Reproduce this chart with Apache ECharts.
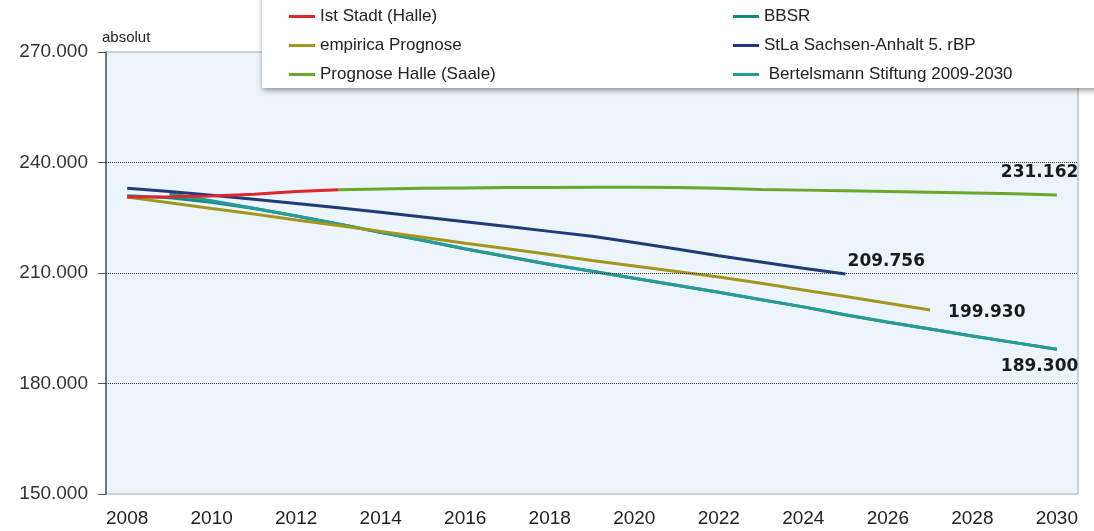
<!DOCTYPE html>
<html>
<head>
<meta charset="utf-8">
<script src="https://cdn.jsdelivr.net/npm/echarts@6/dist/echarts.min.js"></script>
<style>html,body{margin:0;padding:0;background:#fff}#c{width:1094px;height:531px}</style>
</head>
<body>
<div id="c"></div>
<script>
const years = ['2008','2009','2010','2011','2012','2013','2014','2015','2016','2017','2018','2019','2020','2021','2022','2023','2024','2025','2026','2027','2028','2029','2030'];
const yTicks = [150000, 180000, 210000, 240000, 270000];
const gridValues = [180000, 210000, 240000];

const istStadt = [230600,230700,230900,231400,232100,232600,null,null,null,null,null,null,null,null,null,null,null,null,null,null,null,null,null];
const empirica = [230600,229100,227500,226000,224400,222900,221300,219700,218100,216600,215000,213400,211900,210400,208900,207200,205400,203600,201800,199930,null,null,null];
const prognoseHalle = [null,null,null,null,null,232600,232800,233000,233100,233200,233200,233300,233300,233200,233000,232700,232500,232300,232100,231900,231700,231500,231162];
const bbsr = [231000,230400,229200,227500,225500,223300,221000,218800,216500,214400,212300,210500,208600,206700,204800,202700,200800,198600,196600,194800,192900,191100,189300];
const stla = [233000,232100,231100,230000,228900,227700,226500,225200,223900,222600,221300,220000,218300,216500,214700,213000,211300,209756,null,null,null,null,null];
const bertelsmann = [null,231600,229600,227600,225500,223300,221100,218900,216600,214500,212400,210500,208600,206700,204800,202800,200800,198700,196700,194800,192900,191100,189300];

const fmt = v => String(v).replace(/\B(?=(\d{3})+(?!\d))/g, '.');

function line(name, color, data, labelOffset, z) {
  const s = {
    name: name, type: 'line', data: data,
    showSymbol: false, symbol: 'none', smooth: false, z: z || 2,
    lineStyle: { color: color, width: 3 }, itemStyle: { color: color },
    emphasis: { disabled: true }
  };
  if (labelOffset) {
    s.endLabel = {
      show: true, distance: 0, offset: labelOffset,
      formatter: p => fmt(p.value),
      color: '#1a1a1a', fontFamily: 'DejaVu Sans', fontWeight: 'bold', fontSize: 17
    };
  }
  return s;
}

const chart = echarts.init(document.getElementById('c'));
const series = [
  line('BBSR', '#138a78', bbsr, null, 2),
  line(' Bertelsmann Stiftung 2009-2030', '#2a9a98', bertelsmann, [-56, 17], 3),
  line('empirica Prognose', '#a3961e', empirica, [18, 2], 4),
  line('StLa Sachsen-Anhalt 5. rBP', '#1f3c78', stla, [2, -12], 5),
  line('Prognose Halle (Saale)', '#68a82c', prognoseHalle, [-56, -22], 6),
  line('Ist Stadt (Halle)', '#e0262e', istStadt, null, 7)
];
series[0].markLine = {
  silent: true, symbol: 'none', label: { show: false },
  lineStyle: { color: '#333', type: 'dotted', width: 1 },
  data: gridValues.map(v => ({ yAxis: v }))
};

const legendText = { fontFamily: 'Liberation Sans', fontSize: 17, color: '#222' };
chart.setOption({
  animation: false,
  backgroundColor: '#ffffff',
  grid: { left: 106, right: 16, top: 52, bottom: 37, show: true, backgroundColor: '#edf5fc', borderColor: '#a8a8a8', borderWidth: 1 },
  xAxis: {
    type: 'category', data: years, boundaryGap: true,
    axisLine: { show: false }, axisTick: { show: false },
    axisLabel: { interval: 1, margin: 15, fontFamily: 'Liberation Sans', fontSize: 19, color: '#222' }
  },
  yAxis: {
    type: 'value', min: 150000, max: 270000, interval: 30000,
    name: 'absolut', nameLocation: 'end', nameGap: 7,
    nameTextStyle: { align: 'left', verticalAlign: 'bottom', fontFamily: 'Liberation Sans', fontSize: 15, color: '#222', padding: [0, 0, 0, -4] },
    axisLine: { show: true, lineStyle: { color: '#555', width: 1.5 } },
    axisTick: { show: true, length: 8, lineStyle: { color: '#555' } },
    splitLine: { show: false },
    axisLabel: { margin: 18, fontFamily: 'Liberation Sans', fontSize: 19, color: '#333', formatter: v => fmt(v), customValues: yTicks }
  },
  graphic: [{
    type: 'rect', z: 50, silent: true,
    shape: { x: 262, y: -8, width: 850, height: 96 },
    style: { fill: '#ffffff', shadowBlur: 6, shadowColor: 'rgba(0,0,0,0.45)', shadowOffsetX: 1, shadowOffsetY: 2 }
  }],
  legend: [
    { z: 60, orient: 'vertical', left: 284, top: 3, itemGap: 12, itemWidth: 26, itemHeight: 3, icon: 'rect',
      textStyle: legendText, selectedMode: false,
      data: ['Ist Stadt (Halle)', 'empirica Prognose', 'Prognose Halle (Saale)'] },
    { z: 60, orient: 'vertical', left: 728, top: 3, itemGap: 12, itemWidth: 26, itemHeight: 3, icon: 'rect',
      textStyle: legendText, selectedMode: false,
      data: ['BBSR', 'StLa Sachsen-Anhalt 5. rBP', ' Bertelsmann Stiftung 2009-2030'] }
  ],
  series: series
});
</script>
</body>
</html>
